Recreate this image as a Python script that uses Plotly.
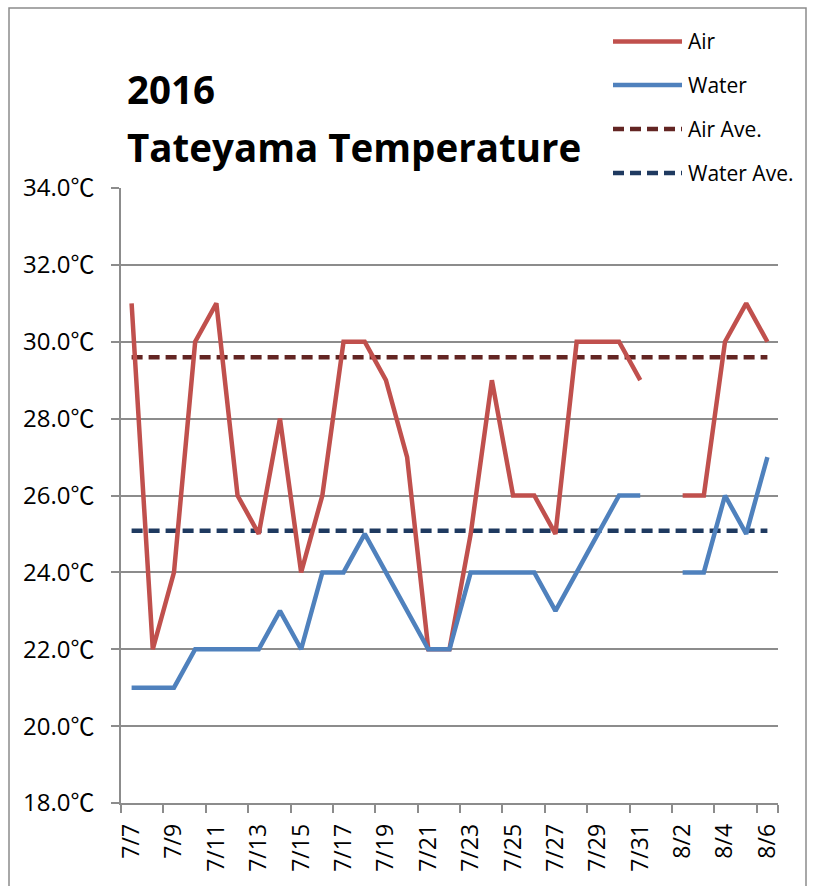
import plotly.graph_objects as go

dates = ["7/7","7/8","7/9","7/10","7/11","7/12","7/13","7/14","7/15","7/16",
         "7/17","7/18","7/19","7/20","7/21","7/22","7/23","7/24","7/25","7/26",
         "7/27","7/28","7/29","7/30","7/31","8/1","8/2","8/3","8/4","8/5","8/6"]
air = [31,22,24,30,31,26,25,28,24,26,
       30,30,29,27,22,22,25,29,26,26,
       25,30,30,30,29,None,26,26,30,31,30]
water = [21,21,21,22,22,22,22,23,22,24,
         24,25,24,23,22,22,24,24,24,24,
         23,24,25,26,26,None,24,24,26,25,27]
air_ave = 29.6
water_ave = 25.08
tick_labels = dates[::2]
y_ticks = [18, 20, 22, 24, 26, 28, 30, 32, 34]

series_names = ["Air", "Water", "Air Ave.", "Water Ave."]
colors = ["#C0504D", "#4F81BD", "#632523", "#1F3A60"]
dashes = ["solid", "solid", "dash", "dash"]

FONT = "Open Sans, Noto Sans CJK JP, sans-serif"
DASH = "11px,6px"

fig = go.Figure()
ys = [air, water, [air_ave]*len(dates), [water_ave]*len(dates)]
order = [2, 3, 0, 1]
for i in order:
    fig.add_trace(go.Scatter(
        x=dates, y=ys[i], mode="lines", name=series_names[i],
        line=dict(color=colors[i], width=4.5,
                  dash=DASH if dashes[i] == "dash" else "solid"),
        connectgaps=False, showlegend=False, hoverinfo="skip"))

L, R, T, B = 121, 36, 188, 83
W, H = 814, 886
pw, ph = W - L - R, H - T - B

def px(x):
    return (x - L) / pw

def py(y):
    return (H - B - y) / ph

shapes = [dict(type="rect", xref="paper", yref="paper",
               x0=px(9), x1=px(806), y0=py(895), y1=py(8),
               line=dict(color="#8C8C8C", width=1.5), fillcolor="rgba(0,0,0,0)",
               layer="below")]
annotations = []
legend_y = [41.5, 85, 129, 173]
for i in range(4):
    shapes.append(dict(type="line", xref="paper", yref="paper",
                       x0=px(613), x1=px(682), y0=py(legend_y[i]), y1=py(legend_y[i]),
                       line=dict(color=colors[i], width=4.5,
                                 dash=DASH if dashes[i] == "dash" else "solid")))
    annotations.append(dict(xref="paper", yref="paper", x=px(686), y=py(legend_y[i]),
                            xanchor="left", yanchor="middle", showarrow=False,
                            text=series_names[i],
                            font=dict(family=FONT, size=21, color="#000000")))

annotations.append(dict(xref="paper", yref="paper", x=px(125), y=py(89),
                        xanchor="left", yanchor="middle", showarrow=False,
                        text="<b>2016</b>",
                        font=dict(family=FONT, size=38.5, color="#000000")))
annotations.append(dict(xref="paper", yref="paper", x=px(125), y=py(147),
                        xanchor="left", yanchor="middle", showarrow=False,
                        text="<b>Tateyama Temperature</b>",
                        font=dict(family=FONT, size=38.5, color="#000000")))

deg = "<span style=\"font-family:'Noto Sans CJK JP'\">℃</span>"

fig.update_layout(
    width=W, height=H,
    margin=dict(l=L, r=R, t=T, b=B, autoexpand=False),
    paper_bgcolor="white", plot_bgcolor="white",
    shapes=shapes, annotations=annotations,
    font=dict(family=FONT, size=22, color="#000000"),
    hovermode=False,
)
fig.update_xaxes(
    type="category", categoryorder="array", categoryarray=dates,
    range=[-0.5, len(dates) - 0.5],
    tickmode="array", tickvals=tick_labels, ticktext=tick_labels,
    tickson="boundaries", ticks="outside", ticklen=8, tickcolor="#8C8C8C", tickwidth=1.5,
    tickangle=-90, showgrid=False, showline=True, linecolor="#8C8C8C", linewidth=1.5,
    ticklabelstandoff=10,
    tickfont=dict(family=FONT, size=23, color="#000000"),
)
fig.update_yaxes(
    range=[18, 34], tickmode="array", tickvals=y_ticks,
    ticktext=[f"{v:.1f}{deg}" for v in y_ticks],
    showgrid=True, gridcolor="#8C8C8C", gridwidth=1.5,
    showline=True, linecolor="#8C8C8C", linewidth=1.5,
    ticks="outside", ticklen=8, tickcolor="#8C8C8C", tickwidth=1.5,
    zeroline=False, ticklabelstandoff=12,
    tickfont=dict(family=FONT, size=24, color="#000000"),
)

fig.write_html("out.html", config={"displayModeBar": False},
               post_script="document.body.style.margin='0';document.body.style.overflow='hidden';")
